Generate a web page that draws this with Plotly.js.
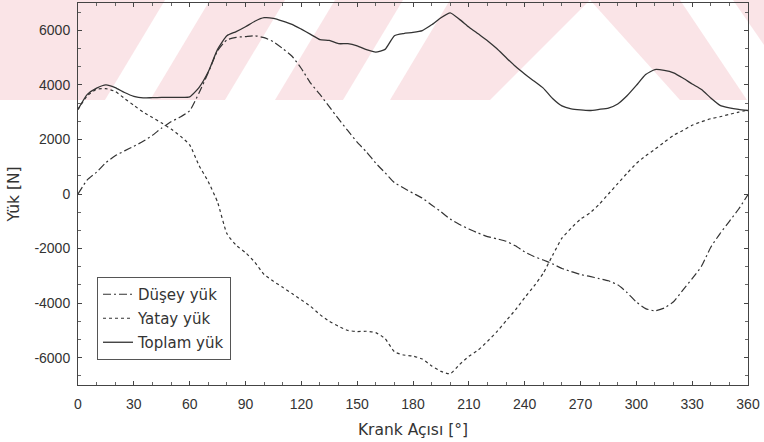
<!DOCTYPE html>
<html>
<head>
<meta charset="utf-8">
<script src="https://cdn.plot.ly/plotly-3.0.1.min.js"></script>
<style>
  html, body { margin: 0; padding: 0; background: #ffffff; }
  #chart { width: 764px; height: 442px; }
</style>
</head>
<body>
<div id="chart"></div>
<script>
// Crank angle in degrees
const krankAcisi = [
  0, 5, 10, 15, 20, 25, 30, 35, 40, 45, 50, 55, 60, 65, 70, 75, 80, 85, 90, 95,
  100, 105, 110, 115, 120, 125, 130, 135, 140, 145, 150, 155, 160, 165, 170, 175,
  180, 185, 190, 195, 200, 205, 210, 215, 220, 225, 230, 235, 240, 245, 250, 255,
  260, 265, 270, 275, 280, 285, 290, 295, 300, 305, 310, 315, 320, 325, 330, 335,
  340, 345, 350, 355, 360
];

// Vertical load [N]
const duseyYuk = [
  0, 520, 800, 1150, 1400, 1580, 1750, 1930, 2150, 2420, 2650, 2820, 3050, 3700, 4450, 5250, 5650, 5740, 5770, 5800,
  5730, 5580, 5330, 5050, 4600, 4060, 3650, 3200, 2750, 2320, 1900, 1540, 1130, 780, 420, 220,
  30, -150, -400, -650, -920, -1120, -1280, -1430, -1560, -1640, -1730, -1900, -2120, -2290, -2420, -2560,
  -2730, -2840, -2950, -3020, -3100, -3180, -3330, -3610, -3960, -4200, -4280, -4180, -3950, -3520, -3100, -2650,
  -1950, -1450, -1000, -550, -20
];

// Horizontal load [N]
const yatayYuk = [
  3100, 3600, 3840, 3860, 3760, 3500, 3250, 3000, 2800, 2600, 2380, 2120, 1800, 1050, 450, -300, -1450, -1880, -2150, -2500,
  -2950, -3200, -3420, -3650, -3880, -4120, -4420, -4660, -4850, -5000, -5040, -5030, -5080, -5300, -5780, -5900,
  -5940, -6050, -6300, -6500, -6590, -6250, -5950, -5720, -5400, -5050, -4650, -4250, -3800, -3380, -2900, -2250,
  -1620, -1250, -920, -700, -380, 0, 380, 760, 1120, 1400, 1640, 1900, 2150, 2330, 2520, 2650,
  2760, 2830, 2920, 3000, 3080
];

// Total load [N]
const toplamYuk = [
  3100, 3650, 3880, 4000, 3900, 3720, 3580, 3520, 3530, 3540, 3540, 3540, 3560, 3900, 4480, 5300, 5800, 5950, 6130, 6330,
  6460, 6440, 6340, 6220, 6040, 5850, 5660, 5630, 5510, 5510, 5430, 5290, 5200, 5300, 5800, 5880,
  5920, 5990, 6200, 6460, 6640, 6400, 6120, 5870, 5620, 5330, 5000, 4680, 4400, 4140, 3880, 3500,
  3230, 3120, 3080, 3060, 3100, 3150, 3300, 3600, 3980, 4380, 4560, 4530, 4440, 4250, 4030, 3830,
  3520, 3250, 3160, 3100, 3060
];

const xTickVals = [0, 30, 60, 90, 120, 150, 180, 210, 240, 270, 300, 330, 360];
const yTickVals = [-6000, -4000, -2000, 0, 2000, 4000, 6000];
const yTickLabels = ['-6000', '-4000', '-2000', '0', '2000', '4000', '6000'];

const seriesNames = ['Düşey yük', 'Yatay yük', 'Toplam yük'];

// Page geometry of the plotting area (pixels)
const W = 764, H = 442;
const M = { l: 78, r: 16, t: 3, b: 57 };
const plotW = W - M.l - M.r, plotH = H - M.t - M.b;
const px = X => ((X - M.l) / plotW).toFixed(4);
const py = Y => ((H - M.b - Y) / plotH).toFixed(4);
function band(pts) {
  return 'M ' + pts.map(p => px(p[0]) + ',' + py(p[1])).join(' L ') + ' Z';
}

// Pale red diagonal band pattern along the top of the page
const pink = 'rgba(246,205,212,0.55)';
const bandPaths = [
  [[0, 0], [165, 0], [105, 100], [0, 100]],
  [[210, 0], [285, 0], [225, 100], [150, 100]],
  [[335, 0], [403, 0], [343, 100], [275, 100]],
  [[450, 0], [590, 0], [490, 100], [390, 100]],
  [[590, 0], [680, 0], [747, 100], [680, 100]],
  [[733, 0], [764, 0], [764, 45]]
];
const shapes = bandPaths.map(p => ({
  type: 'path', xref: 'paper', yref: 'paper', layer: 'below',
  path: band(p), fillcolor: pink, line: { width: 0 }
}));

const lineColor = '#333333';
const traces = [
  {
    x: krankAcisi, y: duseyYuk, name: seriesNames[0], type: 'scatter', mode: 'lines', legendgroup: 'd',
    line: { color: lineColor, width: 1.2, dash: '8px,3px,2px,3px', shape: 'spline', smoothing: 0.5 }
  },
  {
    x: krankAcisi, y: yatayYuk, name: seriesNames[1], type: 'scatter', mode: 'lines', legendgroup: 'y',
    line: { color: lineColor, width: 1.2, dash: '3px,3px', shape: 'spline', smoothing: 0.5 }
  },
  {
    x: krankAcisi, y: toplamYuk, name: seriesNames[2], type: 'scatter', mode: 'lines', legendgroup: 't',
    line: { color: lineColor, width: 1.3, shape: 'spline', smoothing: 0.5 }
  }
];

const tickFont = { family: 'Liberation Sans, Arial, sans-serif', size: 14, color: '#333333' };
const titleFont = { family: 'DejaVu Sans, Verdana, sans-serif', size: 15.5, color: '#333333' };

const layout = {
  width: W, height: H,
  margin: M,
  paper_bgcolor: 'rgba(0,0,0,0)',
  plot_bgcolor: 'rgba(0,0,0,0)',
  showlegend: true,
  shapes: shapes,
  xaxis: {
    range: [0, 360],
    tickvals: xTickVals,
    ticks: 'inside', ticklen: 4, tickcolor: '#444',
    minor: { dtick: 10, ticks: 'inside', ticklen: 3, tickcolor: '#666' },
    showline: true, linecolor: '#444', linewidth: 1, mirror: 'allticks',
    showgrid: false, zeroline: false,
    tickfont: tickFont,
    ticklabelstandoff: 6,
    title: { text: 'Krank Açısı [°]', font: titleFont, standoff: 13 }
  },
  yaxis: {
    range: [-7000, 7000],
    tickvals: yTickVals, ticktext: yTickLabels,
    ticks: 'inside', ticklen: 4, tickcolor: '#444',
    minor: { dtick: 2000 / 3, ticks: 'inside', ticklen: 3, tickcolor: '#666' },
    showline: true, linecolor: '#444', linewidth: 1, mirror: 'allticks',
    showgrid: false, zeroline: false,
    tickfont: tickFont,
    ticklabelstandoff: 4,
    title: { text: 'Yük [N]', font: titleFont, standoff: 10 }
  },
  legend: {
    x: (97 - M.l) / plotW, y: (H - M.b - 277) / plotH,
    xanchor: 'left', yanchor: 'top',
    bgcolor: '#ffffff', bordercolor: '#555555', borderwidth: 1,
    font: { family: 'DejaVu Sans, Verdana, sans-serif', size: 15, color: '#333333' },
    traceorder: 'grouped', tracegroupgap: 1.5,
    itemwidth: 30
  }
};

Plotly.newPlot('chart', traces, layout, { displayModeBar: false, staticPlot: true });
</script>
</body>
</html>
